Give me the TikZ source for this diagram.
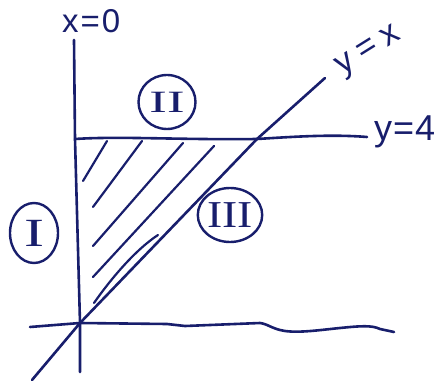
\documentclass[tikz,border=0pt]{standalone}
\usepackage{fontspec}
\setmainfont{Liberation Sans}
\newfontfamily\romfont{Liberation Serif}
\usetikzlibrary{shapes.geometric}
\definecolor{ink}{RGB}{24,30,108}
\tikzset{
  pen/.style={draw=ink, line width=2.6pt, line cap=round, line join=round},
  hatchline/.style={draw=ink, line width=2.2pt, line cap=round},
  region/.style={ellipse, draw=ink, line width=2.4pt, inner sep=0pt, text=ink},
  lbl/.style={text=ink, inner sep=0pt}
}
\begin{document}
\begin{tikzpicture}[x=1pt,y=-1pt]
\useasboundingbox (0,0) rectangle (444,387);
% key points
\coordinate (ytop) at (74,40);
\coordinate (ybot) at (80,372);
\coordinate (O) at (80,323);
\coordinate (xl) at (30,327);
\coordinate (xr) at (394,332);
\coordinate (hl) at (75,139);
\coordinate (P) at (257,139);
\coordinate (hr) at (367,137);
\coordinate (dl) at (32,380);
\coordinate (dr) at (325,78);
% labels
\node[lbl, anchor=base west, font=\fontsize{33}{33}\selectfont] (lx0) at (62,33) {x\hspace{2pt}=\hspace{2pt}0};
\node[lbl, anchor=base west, font=\fontsize{36}{36}\selectfont] (ly4) at (374,141) {y\hspace{1pt}=\hspace{1pt}4};
\node[lbl, rotate=32, font=\fontsize{34}{34}\selectfont] (lyx) at (369,52) {y\hspace{8pt}=\hspace{8pt}x};
% regions
\node[region, minimum width=48pt, minimum height=60pt, font=\romfont\fontsize{40}{40}\selectfont] (r1) at (34,233) {\scalebox{1.5}[1]{I}};
\node[region, minimum width=57pt, minimum height=54pt, font=\romfont\fontsize{31}{31}\selectfont] (r2) at (167,102) {\scalebox{1.7}[1]{II}};
\node[region, minimum width=62pt, minimum height=54pt, font=\romfont\fontsize{38}{38}\selectfont] (r3) at (230,215) {\scalebox{1.2}[1]{III}};
% axes
\draw[pen] (ytop) -- (75,139) -- (O) -- (ybot);
\draw[pen] (xl) -- (O) -- (167,324) -- (185,326) -- (260,323)
  .. controls (268,324) and (272,329) .. (285,331)
  .. controls (300,333) and (320,330) .. (340,328)
  .. controls (360,326) and (372,325) .. (380,329) -- (xr);
\draw[pen] (hl) .. controls (120,136) and (180,140) .. (P)
  .. controls (290,137) and (330,134) .. (hr);
\draw[pen] (dl) -- (O) -- (P) -- (dr);
% hatching
\draw[hatchline] (83,181) -- (107,141);
\draw[hatchline] (93,207) -- (142,141);
\draw[hatchline] (93,246) -- (183,143);
\draw[hatchline] (93,277) -- (214,146);
\draw[hatchline] (94,303) .. controls (110,280) and (135,250) .. (158,235);
\end{tikzpicture}
\end{document}
